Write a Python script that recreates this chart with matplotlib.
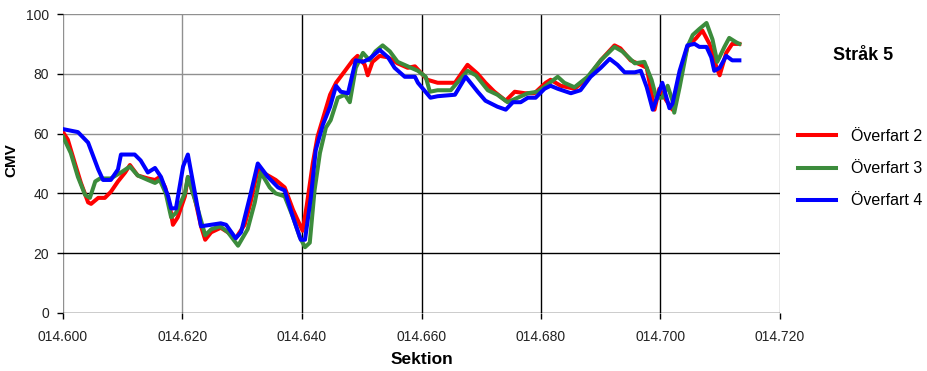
import matplotlib
matplotlib.use("Agg")
import matplotlib.pyplot as plt

plt.rcParams['font.family'] = ['Liberation Sans', 'DejaVu Sans']

# ---- data ----
x_red = [14.6000, 14.6008, 14.6020, 14.6030, 14.6042, 14.6047, 14.6059, 14.6070, 14.6080, 14.6092,
         14.6104, 14.6112, 14.6125, 14.6142, 14.6154, 14.6162, 14.6171, 14.6179, 14.6184, 14.6192,
         14.6204, 14.6209, 14.6221, 14.6231, 14.6238, 14.6248, 14.6264, 14.6276, 14.6289, 14.6304,
         14.6314, 14.6326, 14.6343, 14.6356, 14.6371, 14.6385, 14.6401, 14.6408, 14.6418, 14.6426,
         14.6435, 14.6447, 14.6457, 14.6472, 14.6485, 14.6493, 14.6505, 14.6510, 14.6518, 14.6530,
         14.6544, 14.6560, 14.6577, 14.6589, 14.6610, 14.6627, 14.6644, 14.6656, 14.6677, 14.6694,
         14.6707, 14.6722, 14.6741, 14.6756, 14.6773, 14.6789, 14.6808, 14.6816, 14.6833, 14.6856,
         14.6878, 14.6900, 14.6923, 14.6933, 14.6950, 14.6967, 14.6977, 14.6985, 14.6990, 14.6998,
         14.7010, 14.7020, 14.7032, 14.7045, 14.7060, 14.7070, 14.7082, 14.7094, 14.7099, 14.7110,
         14.7120, 14.7132]
y_red = [60.5, 58, 50, 43.5, 37, 36.5, 38.5, 38.5, 40.5, 44,
         47, 49.5, 46, 45, 44.5, 45.5, 42, 35.5, 29.5, 32,
         39, 45.5, 38, 29, 24.5, 27, 28.5, 27, 25, 29.5,
         37, 48, 46, 44.5, 42, 34.5, 27.5, 36, 50, 59,
         65, 73, 77, 81, 84.5, 86, 83, 79.5, 84, 86,
         85.5, 83.5, 82, 82.5, 78, 77, 77, 77, 83, 80,
         77, 74, 71, 74, 73.5, 73.5, 77, 78, 76, 75,
         78.5, 84.5, 89.5, 88.5, 84.5, 83, 82, 73.5, 68, 75,
         71, 68, 79, 89, 92, 94.5, 90, 82, 79.5, 87,
         90, 90]

x_green = [14.6000, 14.6013, 14.6025, 14.6037, 14.6045, 14.6054, 14.6062, 14.6080, 14.6097, 14.6112,
           14.6125, 14.6142, 14.6154, 14.6162, 14.6172, 14.6181, 14.6189, 14.6204, 14.6209, 14.6226,
           14.6238, 14.6248, 14.6263, 14.6276, 14.6293, 14.6309, 14.6321, 14.6331, 14.6346, 14.6356,
           14.6371, 14.6385, 14.6396, 14.6405, 14.6413, 14.6421, 14.6430, 14.6440, 14.6448, 14.6460,
           14.6472, 14.6480, 14.6490, 14.6502, 14.6513, 14.6523, 14.6535, 14.6547, 14.6560, 14.6577,
           14.6594, 14.6607, 14.6614, 14.6627, 14.6649, 14.6677, 14.6691, 14.6711, 14.6727, 14.6744,
           14.6761, 14.6778, 14.6794, 14.6808, 14.6828, 14.6839, 14.6856, 14.6878, 14.6900, 14.6923,
           14.6936, 14.6957, 14.6973, 14.6985, 14.6993, 14.7003, 14.7012, 14.7020, 14.7023, 14.7032,
           14.7045, 14.7054, 14.7065, 14.7077, 14.7087, 14.7095, 14.7107, 14.7115, 14.7127, 14.7132]
y_green = [59, 53.5, 45.5, 39.5, 38.5, 44, 45, 45, 47, 49,
           46, 44.5, 43.5, 44.5, 40, 32, 33.5, 40, 45.5, 34.5,
           26, 28, 29, 27, 22.5, 28, 37, 47, 42, 40,
           39, 32, 25.5, 22, 23.5, 41, 53.5, 62, 64.5, 72,
           73, 70.5, 82, 87, 84.5, 87.5, 89.5, 87.5, 84, 82.5,
           81, 79, 74, 74.5, 74.5, 81, 79.5, 74.5, 73, 70.5,
           72, 73.5, 74, 76, 79, 77, 75.5, 79, 84.5, 89,
           87.5, 83.5, 84, 78, 72, 72, 76, 71, 67, 75.5,
           89, 93, 95, 97, 91.5, 84, 89, 92, 90.5, 90]

x_blue = [14.6000, 14.6025, 14.6042, 14.6059, 14.6067, 14.6080, 14.6092, 14.6097, 14.6120, 14.6130,
          14.6142, 14.6154, 14.6164, 14.6176, 14.6181, 14.6189, 14.6201, 14.6209, 14.6231, 14.6264,
          14.6273, 14.6289, 14.6298, 14.6313, 14.6326, 14.6343, 14.6360, 14.6371, 14.6385, 14.6398,
          14.6405, 14.6415, 14.6423, 14.6435, 14.6447, 14.6457, 14.6465, 14.6477, 14.6490, 14.6502,
          14.6513, 14.6530, 14.6544, 14.6555, 14.6572, 14.6589, 14.6594, 14.6615, 14.6627, 14.6656,
          14.6674, 14.6694, 14.6707, 14.6727, 14.6741, 14.6753, 14.6766, 14.6778, 14.6791, 14.6806,
          14.6816, 14.6828, 14.6850, 14.6866, 14.6883, 14.6900, 14.6915, 14.6928, 14.6940, 14.6957,
          14.6967, 14.6977, 14.6987, 14.7003, 14.7015, 14.7020, 14.7032, 14.7045, 14.7057, 14.7065,
          14.7077, 14.7085, 14.7090, 14.7099, 14.7110, 14.7120, 14.7132]
y_blue = [61.5, 60.5, 57, 48, 44.5, 44.5, 48, 53, 53, 51,
          47, 48.5, 45.5, 39, 35, 35, 49, 53, 29, 30,
          29.5, 25, 27, 39, 50, 45.5, 42, 41, 32, 24.5,
          24.5, 39, 54.5, 63, 69, 76, 74, 73.5, 84.5, 84,
          85, 88, 85.5, 82, 79, 79, 77, 72, 72.5, 73,
          79, 74, 71, 69, 68, 70.5, 70.5, 72, 72, 75,
          76, 75, 73.5, 74.5, 79, 82, 85, 83, 80.5, 80.5,
          81, 75.5, 68, 77, 68.5, 70, 81, 89.5, 90, 89,
          89, 85.5, 81, 82, 86, 84.5, 84.5]

series_names = ["Överfart 2", "Överfart 3", "Överfart 4"]
series_colors = ["#FF0000", "#3C8C3C", "#0000FF"]

x_ticks = [14.600, 14.620, 14.640, 14.660, 14.680, 14.700, 14.720]
x_tick_labels = ["014.600", "014.620", "014.640", "014.660", "014.680", "014.700", "014.720"]
y_ticks = [0, 20, 40, 60, 80, 100]

# ---- figure ----
fig = plt.figure(figsize=(9.28, 3.71), dpi=100)
ax = fig.add_axes([63/928, 1-313/371, (780-63)/928, (313-14)/371])

# grid lines (Excel scan look: some dark, some grey)
vgrid_colors = ["#909090", "#909090", "#000000", "#000000", "#000000", "#000000", "#909090"]
hgrid_colors = ["#000000", "#000000", "#000000", "#909090", "#909090", "#909090"]
for xv, c in zip(x_ticks, vgrid_colors):
    ax.axvline(xv, color=c, lw=1.0, zorder=1)
for yv, c in zip(y_ticks, hgrid_colors):
    ax.axhline(yv, color=c, lw=1.0, zorder=1)

for xs, ys, name, col in zip([x_red, x_green, x_blue], [y_red, y_green, y_blue],
                             series_names, series_colors):
    ax.plot(xs, ys, color=col, lw=2.9, label=name, zorder=3, solid_joinstyle='round')

ax.set_xlim(14.600, 14.720)
ax.set_ylim(0, 100)
ax.set_xticks(x_ticks)
ax.set_xticklabels(x_tick_labels)
ax.set_yticks(y_ticks)
for s in ax.spines.values():
    s.set_visible(False)
ax.tick_params(axis='both', direction='out', length=4, width=1, color='#000000',
               labelsize=10, labelcolor='#222222')
ax.tick_params(axis='x', pad=8)
ax.tick_params(axis='y', pad=6)

ax.set_xlabel("Sektion", fontsize=12.5, fontweight='bold', labelpad=6)
ax.set_ylabel("CMV", fontsize=11, fontweight='bold')
ax.yaxis.set_label_coords((18 - 63) / 717, 0.51)

fig.text(863/928, 1-55/371, "Stråk 5", fontsize=13, fontweight='bold',
         ha='center', va='center')

handles, labels = ax.get_legend_handles_labels()
fig.legend(handles, labels, loc='upper left', bbox_to_anchor=(798/928, 1-129/371),
           frameon=False, fontsize=11.5, handlelength=2.4, handletextpad=0.9,
           labelspacing=1.08, borderpad=0, borderaxespad=0)

fig.savefig("out.png", dpi=100)
